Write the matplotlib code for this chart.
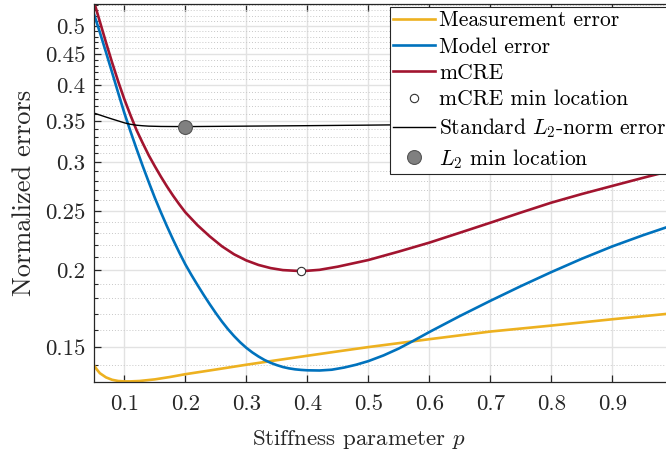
import numpy as np
import matplotlib
matplotlib.use("Agg")
import matplotlib.pyplot as plt

plt.rcParams['font.family'] = ['cmr10']
plt.rcParams['mathtext.fontset'] = 'cm'
plt.rcParams['axes.unicode_minus'] = False
plt.rcParams['axes.formatter.use_mathtext'] = True

# values (log y axis)
meas_x = [0.05, 0.055, 0.06, 0.07, 0.08, 0.09, 0.1, 0.11, 0.125, 0.15, 0.175, 0.2, 0.25,
          0.3, 0.35, 0.4, 0.45, 0.5, 0.6, 0.7, 0.8, 0.9, 1.0]
meas_y = [0.1402, 0.1378, 0.1359, 0.1338, 0.1326, 0.1320, 0.1318, 0.1318, 0.1320, 0.1328,
          0.1340, 0.1354, 0.1378, 0.1403, 0.1427, 0.1451, 0.1475, 0.1499, 0.1544, 0.1589,
          0.1625, 0.1664, 0.1702]

model_x = [0.05, 0.06, 0.07, 0.08, 0.09, 0.1, 0.11, 0.12, 0.13, 0.14, 0.15, 0.16, 0.17,
           0.18, 0.19, 0.2, 0.21, 0.22, 0.23, 0.24, 0.25, 0.26, 0.27, 0.28, 0.29, 0.3,
           0.31, 0.32, 0.33, 0.34, 0.35, 0.36, 0.37, 0.38, 0.39, 0.4, 0.42, 0.44, 0.46,
           0.48, 0.5, 0.525, 0.55, 0.575, 0.6, 0.65, 0.7, 0.75, 0.8, 0.85, 0.9, 0.95, 1.0]
model_y = [0.524, 0.488, 0.453, 0.420, 0.389, 0.361, 0.337, 0.3155, 0.2960, 0.2785, 0.2625,
           0.2485, 0.2358, 0.2243, 0.2139, 0.2045, 0.1965, 0.1892, 0.1824, 0.1761, 0.1703,
           0.1650, 0.1603, 0.1562, 0.1526, 0.1495, 0.1469, 0.1447, 0.1428, 0.1413, 0.1401,
           0.1391, 0.1384, 0.1379, 0.1376, 0.1374, 0.1373, 0.1377, 0.1388, 0.1403, 0.1422,
           0.1453, 0.1491, 0.1537, 0.1586, 0.1684, 0.1783, 0.1884, 0.1986, 0.2088, 0.2187,
           0.2280, 0.2370]

mcre_x = [0.05, 0.06, 0.07, 0.08, 0.09, 0.1, 0.11, 0.12, 0.13, 0.14, 0.15, 0.16, 0.17,
          0.18, 0.19, 0.2, 0.22, 0.24, 0.26, 0.28, 0.3, 0.32, 0.34, 0.36, 0.38, 0.39, 0.4,
          0.42, 0.45, 0.5, 0.55, 0.6, 0.65, 0.7, 0.75, 0.8, 0.85, 0.9, 0.95, 1.0]
mcre_y = [0.549, 0.508, 0.470, 0.436, 0.406, 0.380, 0.358, 0.3384, 0.3225, 0.3079, 0.2955,
          0.2841, 0.2738, 0.2645, 0.2562, 0.2486, 0.2368, 0.2271, 0.2188, 0.2123, 0.2075,
          0.2040, 0.2016, 0.2001, 0.1996, 0.1995, 0.1996, 0.2003, 0.2027, 0.2078, 0.2145,
          0.2218, 0.2302, 0.2390, 0.2483, 0.2577, 0.2662, 0.2744, 0.2828, 0.2912]

l2_x = [0.05, 0.06, 0.07, 0.08, 0.09, 0.1, 0.11, 0.12, 0.13, 0.14, 0.16, 0.2, 0.3, 0.4,
        0.5, 0.6, 0.8, 1.0]
l2_y = [0.3607, 0.3580, 0.3553, 0.3527, 0.3502, 0.3477, 0.3458, 0.3446, 0.3439, 0.3434,
        0.3430, 0.3428, 0.3434, 0.3440, 0.3447, 0.3455, 0.3465, 0.3475]

mcre_min = (0.39, 0.1995)
l2_min = (0.2, 0.3428)

yticks = [0.15, 0.2, 0.25, 0.3, 0.35, 0.4, 0.45, 0.5]
ytick_labels = ['0.15', '0.2', '0.25', '0.3', '0.35', '0.4', '0.45', '0.5']
xticks = [0.1, 0.2, 0.3, 0.4, 0.5, 0.6, 0.7, 0.8, 0.9]
xtick_labels = ['0.1', '0.2', '0.3', '0.4', '0.5', '0.6', '0.7', '0.8', '0.9']

fig = plt.figure(figsize=(6.66, 4.51), dpi=100)
ax = fig.add_axes([93.8 / 666, 1 - 382 / 451, 579.5 / 666, 378 / 451])

ax.plot(meas_x, meas_y, color='#EDB120', lw=1.9, label='Measurement error')
ax.plot(model_x, model_y, color='#0072BD', lw=1.9, label='Model error')
ax.plot(mcre_x, mcre_y, color='#A2142F', lw=1.9, label='mCRE')
ax.plot(*mcre_min, 'o', ms=6, mfc='white', mec='#333333', mew=0.8, label='mCRE min location')
ax.plot(l2_x, l2_y, color='black', lw=1.0, label='Standard $L_2$-norm error')
ax.plot(*l2_min, 'o', ms=10, mfc='#808080', mec='#555555', mew=0.8, label='$L_2$ min location')

ax.set_yscale('log')
ax.set_xlim(0.05, 1.0)
ax.set_ylim(0.1315, 0.543)
ax.set_yticks(yticks)
ax.set_yticklabels(ytick_labels)
ax.set_yticks(np.arange(0.14, 0.545, 0.01), minor=True)
ax.yaxis.set_minor_formatter(matplotlib.ticker.NullFormatter())
ax.set_xticks(xticks)
ax.set_xticklabels(xtick_labels)

ax.grid(which='major', axis='both', color='#e2e2e2', lw=1.0)
ax.grid(which='minor', axis='y', color='#c8c8c8', lw=0.7, linestyle=(0, (1, 2)))
ax.set_axisbelow(True)

ax.tick_params(which='both', direction='in', top=True, right=True, colors='#262626',
               labelcolor='#262626', labelsize=16.5)
ax.tick_params(which='major', length=5, width=0.9)
ax.tick_params(which='minor', length=3, width=0.8)
ax.tick_params(axis='y', pad=6)
ax.tick_params(axis='x', pad=9)
for s in ax.spines.values():
    s.set_color('#262626')
    s.set_linewidth(0.9)

ax.set_xlabel('Stiffness parameter $p$', fontsize=16.5, color='#262626')
ax.set_ylabel('Normalized errors', fontsize=19, color='#262626')
ax.xaxis.set_label_coords(0.4577, -0.122)
ax.yaxis.set_label_coords(-0.1, 0.5)

leg = ax.legend(loc='upper right', bbox_to_anchor=(1, 1), fontsize=15.5, frameon=True,
                fancybox=False, framealpha=1, edgecolor='#262626', borderaxespad=0.16,
                handlelength=1.95, handletextpad=0.2, labelspacing=0.32, borderpad=0.15)
leg.get_frame().set_linewidth(0.8)

plt.savefig('out.png', dpi=100)
